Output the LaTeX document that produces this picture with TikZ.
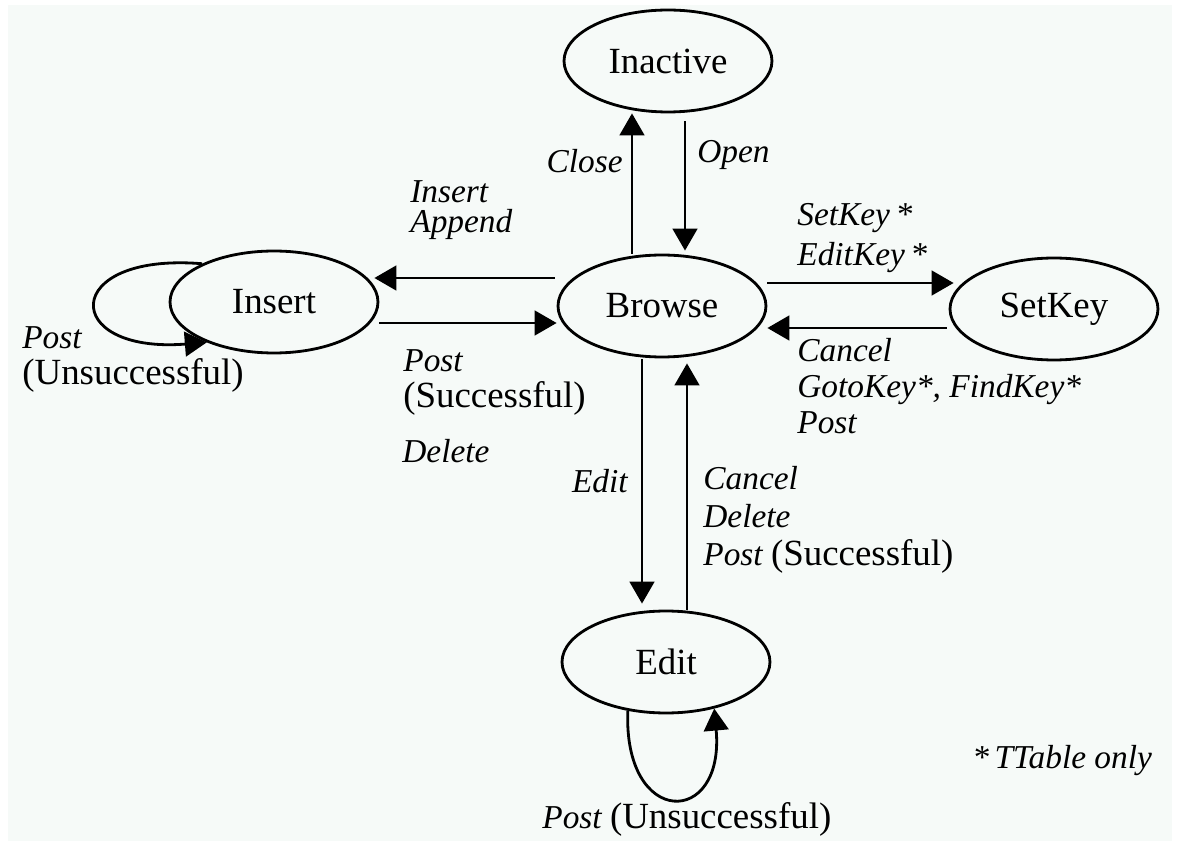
\documentclass[tikz,border=0pt]{standalone}
\usepackage{fontspec}
\setmainfont{Liberation Serif}
\usetikzlibrary{shapes.geometric,arrows.meta,calc}
\definecolor{paper}{RGB}{246,250,248}
\newcommand\uplbl[1]{{\upshape\fontsize{21}{20.5}\selectfont #1}}

\tikzset{
  state/.style={draw, ellipse, line width=1.6pt, minimum width=4.16cm,
    minimum height=2.04cm, inner sep=0pt, font=\fontsize{21}{24}\selectfont},
  trans/.style={line width=1.6pt, -{Triangle[length=12.5pt,width=14pt]}},
  lbl/.style={inner sep=0pt, align=left, font=\fontsize{19}{20.5}\selectfont\itshape},
}

\begin{document}
\begin{tikzpicture}[x=0.02cm,y=-0.02cm]
        \useasboundingbox (0,0) rectangle (1181,841);
        \fill[paper] (8,5) rectangle (1172,841);

        \node[state] (inactive) at (668,61) {Inactive};
        \node[state] (browse) at (662,306) {Browse};
        \node[state] (insert) at (274,302) {Insert};
        \node[state] (setkey) at (1054,309) {SetKey};
        \node[state] (edit) at (666,662) {Edit};

        % browse <-> inactive
        \draw[trans] ($(browse.north)+(-30,0)$) -- ($(inactive.south)+(-36,0)$);
        \draw[trans] ($(inactive.south)+(17,8)$) -- ($(browse.north)+(23,-3)$);
        % browse <-> insert
        \draw[trans] ($(browse.west)+(-2,-28)$) -- ($(insert.east)+(-5,-24)$);
        \draw[trans] ($(insert.east)+(0,21)$) -- ($(browse.west)+(0,17)$);
        % browse <-> setkey
        \draw[trans] ($(browse.east)+(0,-23)$) -- ($(setkey.west)+(5,-26)$);
        \draw[trans] ($(setkey.west)+(-2,19)$) -- ($(browse.east)+(0,22)$);
        % browse <-> edit
        \draw[trans] ($(browse.south)+(-20,1)$) -- ($(edit.north)+(-24,-6)$);
        \draw[trans] ($(edit.north)+(21,0)$) -- ($(browse.south)+(25,5)$);
        % self loops
        \draw[trans] (insert.152) .. controls (60,252) and (60,354) .. (insert.211);
        \draw[trans] (edit.232) .. controls (623,828) and (725,828) .. (edit.316);

        \node[lbl, anchor=base east] (lclose) at (623,173) {Close};
        \node[lbl, anchor=base west] (lopen) at (697,163) {Open};
        \node[lbl, anchor=base west] (lappend) at (410,233) {Insert\\[-3pt]Append};
        \node[lbl, anchor=base west] (lpost) at (403,408) {Post\\\uplbl{(Successful)}};
        \node[lbl, anchor=base west] (ldelete) at (402,462) {Delete};
        \node[lbl, anchor=base east] (ledit) at (628,493) {Edit};
        \node[lbl, anchor=base west] (lback) at (703,565)
          {Cancel\\[1pt]Delete\\[1pt]Post \uplbl{(Successful)}};
        \node[lbl, anchor=base west] (lsetkey) at (797,266) {SetKey\,*\\[2.3pt]EditKey\,*};
        \node[lbl, anchor=base west] (lcancel) at (797,434)
          {Cancel\\GotoKey*, FindKey*\\Post};
        \node[lbl, anchor=base west] (lloop) at (22,385) {Post\\\uplbl{(Unsuccessful)}};
        \node[lbl, anchor=base west] (leditloop) at (542,828) {Post \uplbl{(Unsuccessful)}};
        \node[lbl, anchor=base west] (lnote) at (972,768) {*\,TTable only};
\end{tikzpicture}
\end{document}
